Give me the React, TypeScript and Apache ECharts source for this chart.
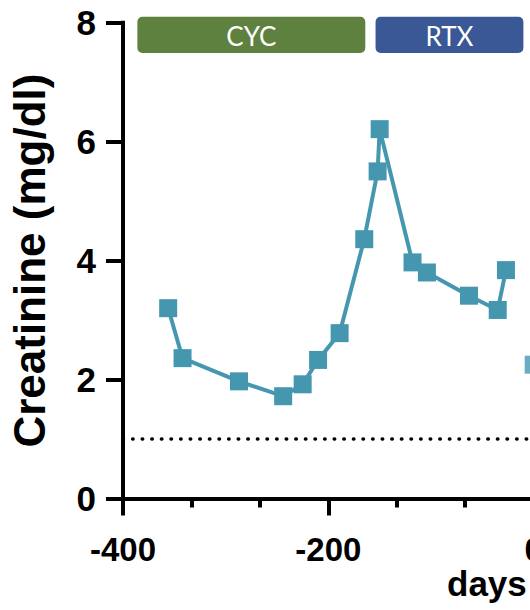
import React, { useEffect, useRef } from "react";
import * as echarts from "echarts";

// ---- data ----
const days = [-356, -342, -287, -244, -225, -210, -189, -165, -152, -150, -118, -104, -63, -35, -27];
const creatinine = [3.2, 2.36, 1.97, 1.72, 1.92, 2.33, 2.78, 4.36, 5.5, 6.21, 3.97, 3.8, 3.41, 3.17, 3.84];
const laterDays = [0];
const laterCreatinine = [2.25];
const baselineCreatinine = 1;

const treatmentNames = ["CYC", "RTX"];
const treatmentStart = [-386, -154];
const treatmentEnd = [-164, -10];
const treatmentColors = ["#5e813f", "#3a5796"];
const bandTop = 8.1;
const bandBottom = 7.49;

const xTicks = [-400, -200, 0];
const yTicks = [0, 2, 4, 6, 8];

const FONT = "'Liberation Sans', Arial, Helvetica, sans-serif";
const LINE_COLOR = "#4597b0";

export default function App() {
  const ref = useRef<HTMLDivElement>(null);

  useEffect(() => {
    if (!ref.current) return;
    const chart = echarts.init(ref.current, null, { renderer: "svg" });

    const mainData = days.map((d, i) => [d, creatinine[i]]);
    const laterData = laterDays.map((d, i) => [d, laterCreatinine[i]]);
    const bandData = treatmentNames.map((n, i) => ({
      name: n,
      value: [treatmentStart[i], treatmentEnd[i], bandTop, bandBottom, i],
    }));

    chart.setOption({
      animation: false,
      grid: {
        left: 123,
        top: 22.7,
        right: 61,
        bottom: 111.5,
        containLabel: false,
        outerBoundsMode: "none",
      },
      xAxis: {
        type: "value",
        min: -400,
        max: 200,
        interval: 200,
        axisLine: { show: true, onZero: false, lineStyle: { color: "#000", width: 4, cap: "square" } },
        axisTick: { show: true, length: 17, lineStyle: { color: "#000", width: 4 } },
        minorTick: { show: true, splitNumber: 3, length: 9, lineStyle: { color: "#000", width: 4 } },
        splitLine: { show: false },
        axisLabel: {
          margin: 34,
          fontSize: 33,
          fontWeight: "bold",
          fontFamily: FONT,
          color: "#000",
          formatter: (v: number) => (xTicks.includes(v) ? String(v) : ""),
        },
      },
      yAxis: {
        type: "value",
        min: 0,
        max: 8,
        interval: 2,
        name: "Creatinine (mg/dl)",
        nameLocation: "middle",
        nameRotate: 90,
        nameGap: 72,
        nameTextStyle: { fontSize: 44, fontWeight: "bold", fontFamily: FONT, color: "#000" },
        axisLine: { show: true, onZero: false, lineStyle: { color: "#000", width: 4, cap: "square" } },
        axisTick: { show: true, length: 17, lineStyle: { color: "#000", width: 4 } },
        splitLine: { show: false },
        axisLabel: {
          margin: 27,
          fontSize: 35,
          fontWeight: "bold",
          fontFamily: FONT,
          color: "#000",
          formatter: (v: number) => (yTicks.includes(v) ? String(v) : ""),
        },
      },
      series: [
        {
          type: "line",
          data: mainData,
          symbol: "rect",
          symbolSize: 18,
          lineStyle: { color: LINE_COLOR, width: 4 },
          itemStyle: { color: LINE_COLOR },
          clip: false,
          markLine: {
            silent: true,
            symbol: ["none", "none"],
            label: { show: false },
            lineStyle: { color: "#000", width: 3.5, type: [0.5, 9.1], cap: "round" },
            data: [{ yAxis: baselineCreatinine }],
          },
        },
        {
          type: "scatter",
          data: laterData,
          symbol: "rect",
          symbolSize: 18,
          itemStyle: { color: LINE_COLOR },
          clip: false,
        },
        {
          type: "custom",
          clip: false,
          data: bandData,
          encode: { x: [0, 1], y: [2, 3] },
          renderItem: (params: any, api: any) => {
            const idx = api.value(4);
            const p0 = api.coord([api.value(0), api.value(2)]);
            const p1 = api.coord([api.value(1), api.value(3)]);
            return {
              type: "group",
              children: [
                {
                  type: "rect",
                  shape: { x: p0[0], y: p0[1], width: p1[0] - p0[0], height: p1[1] - p0[1], r: 5 },
                  style: { fill: treatmentColors[idx] },
                },
                {
                  type: "text",
                  style: {
                    text: treatmentNames[idx],
                    x: (p0[0] + p1[0]) / 2,
                    y: (p0[1] + p1[1]) / 2 + 1,
                    align: "center",
                    verticalAlign: "middle",
                    fill: "#fff",
                    fontSize: 26,
                    fontFamily: "Lato, 'Open Sans', sans-serif",
                  },
                },
              ],
            };
          },
        },
      ],
      graphic: [
        {
          type: "text",
          left: 447,
          top: 566,
          style: { text: "days", fontSize: 35, fontWeight: "bold", fontFamily: FONT, fill: "#000" },
        },
      ],
    });

    return () => chart.dispose();
  }, []);

  return (
    <div style={{ position: "fixed", left: 0, top: 0, width: 530, height: 610, overflow: "hidden", background: "#fff" }}>
      <div ref={ref} style={{ position: "absolute", left: 0, top: 0, width: 800, height: 610 }} />
    </div>
  );
}
